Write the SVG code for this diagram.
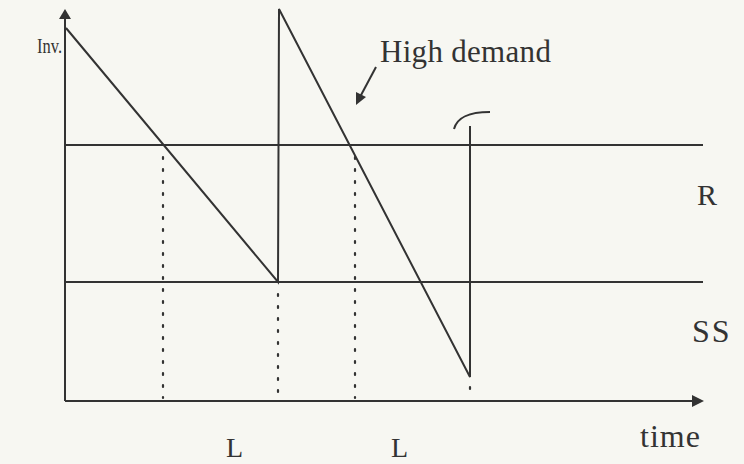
<svg xmlns="http://www.w3.org/2000/svg" width="744" height="464" viewBox="0 0 744 464">
<defs>
<style>
.ln{stroke:#333;stroke-width:2;fill:none}
.dot{stroke:#333;stroke-width:2.2;fill:none;stroke-dasharray:2 10;stroke-linecap:round}
.tx{font-family:"Liberation Serif","Times New Roman",serif;fill:#333}
</style>
</defs>
<rect width="744" height="464" fill="#f7f7f2"/>
<g id="axes">
<line class="ln" x1="65" y1="401" x2="65" y2="18"/>
<path d="M65,9 L71,19 L59,19 z" fill="#333"/>
<line class="ln" x1="65" y1="401" x2="694" y2="401"/>
<path d="M704,401 L692,395 L692,407 z" fill="#333"/>
</g>
<g id="levels">
<line class="ln" x1="65" y1="145" x2="703" y2="145"/>
<line class="ln" x1="65" y1="282" x2="703" y2="282"/>
</g>
<g id="connectors">
<line class="dot" x1="163" y1="157" x2="163" y2="398"/>
<line class="dot" x1="278" y1="294" x2="278" y2="398"/>
<line class="dot" x1="355" y1="157" x2="355" y2="398"/>
<line class="dot" x1="470" y1="387" x2="470" y2="398"/>
<line class="ln" x1="376" y1="67" x2="360" y2="97"/>
<path d="M356,105 L356,92 L366,97 z" fill="#333"/>
</g>
<g id="inventory">
<polyline class="ln" points="66,28 278,282 279,9 470,377 470,126"/>
<path class="ln" d="M454,129 C457,118 467,112 490,112"/>
</g>
<g id="labels">
<text class="tx" x="37" y="53" font-size="22" textLength="25" lengthAdjust="spacingAndGlyphs">Inv.</text>
<text class="tx" x="380" y="62" font-size="31" letter-spacing="0.3">High demand</text>
<text class="tx" x="697" y="205" font-size="30">R</text>
<text class="tx" x="692" y="342" font-size="32" letter-spacing="2">SS</text>
<text class="tx" x="640" y="447" font-size="32" letter-spacing="1">time</text>
<text class="tx" x="226" y="457" font-size="28">L</text>
<text class="tx" x="391" y="457" font-size="28">L</text>
</g>
</svg>
